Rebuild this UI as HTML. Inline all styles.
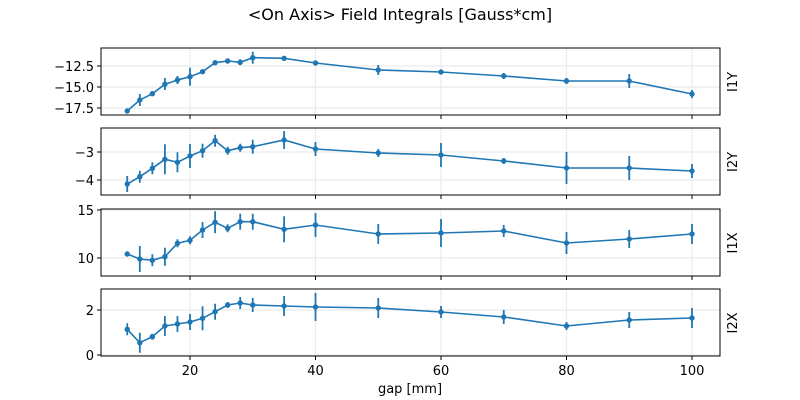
<!DOCTYPE html>
<html><head><style>body{margin:0;background:#fff}svg{display:block}text{font-family:"DejaVu Sans","Liberation Sans",sans-serif;font-size:13px;fill:#000}</style></head><body>
<svg width="800" height="400" xmlns="http://www.w3.org/2000/svg">
<defs><marker id="m" viewBox="-3 -3 6 6" markerWidth="6" markerHeight="6" refX="0" refY="0" markerUnits="userSpaceOnUse"><circle r="2.7" fill="#1f77b4"/></marker></defs>
<text x="400" y="20" text-anchor="middle" style="font-size:16px">&lt;On Axis&gt; Field Integrals [Gauss*cm]</text>
<g stroke="#ebebeb" stroke-width="1.2">
<path d="M190 48V115M315.5 48V115M441 48V115M566.5 48V115M692 48V115"/>
<path d="M190 128V195M315.5 128V195M441 128V195M566.5 128V195M692 128V195"/>
<path d="M190 209V276M315.5 209V276M441 209V276M566.5 209V276M692 209V276"/>
<path d="M190 289V356M315.5 289V356M441 289V356M566.5 289V356M692 289V356"/>
<path d="M101 66H720M101 87H720M101 108H720M101 152H720M101 180H720M101 210H720M101 258H720M101 310H720M101 355H720"/>
</g>
<g fill="none" stroke="#000" stroke-width="1">
<rect x="101" y="48" width="619" height="67"/>
<rect x="101" y="128" width="619" height="67"/>
<rect x="101" y="209" width="619" height="67"/>
<rect x="101" y="289" width="619" height="67"/>
<path d="M190 115v4M315.5 115v4M441 115v4M566.5 115v4M692 115v4M190 195v4M315.5 195v4M441 195v4M566.5 195v4M692 195v4M190 276v4M315.5 276v4M441 276v4M566.5 276v4M692 276v4M190 356v4M315.5 356v4M441 356v4M566.5 356v4M692 356v4"/>
<path d="M101 66h-4M101 87h-4M101 108h-4M101 152h-4M101 180h-4M101 210h-4M101 258h-4M101 310h-4M101 355h-4"/>
</g>
<g text-anchor="end">
<text x="94" y="71">−12.5</text><text x="94" y="92">−15.0</text><text x="94" y="113">−17.5</text>
<text x="94" y="157">−3</text><text x="94" y="185">−4</text>
<text x="94" y="215">15</text><text x="94" y="263">10</text>
<text x="94" y="315">2</text><text x="94" y="360">0</text>
</g>
<g text-anchor="middle">
<text x="190" y="375">20</text><text x="315.5" y="375">40</text><text x="441" y="375">60</text><text x="566.5" y="375">80</text><text x="692" y="375">100</text>
<text x="410" y="393">gap [mm]</text>
</g>
<g text-anchor="middle">
<text transform="translate(737,82) rotate(-90)">I1Y</text>
<text transform="translate(737,162) rotate(-90)">I2Y</text>
<text transform="translate(737,243) rotate(-90)">I1X</text>
<text transform="translate(737,323) rotate(-90)">I2X</text>
</g>
<g stroke="#1f77b4" fill="none" stroke-width="1.6" marker-start="url(#m)" marker-mid="url(#m)" marker-end="url(#m)">
<polyline points="127.25,111 139.8,100 152.35,93.7 164.9,84.3 177.45,80 190,76.7 202.55,71.7 215.1,62.7 227.65,61 240.2,62.3 252.75,57.7 284.1,58.3 315.5,63 378.25,70 441,72 503.75,76 566.5,81 629.25,81 692,94"/>
<polyline points="127.25,184 139.8,176.7 152.35,168.3 164.9,159.3 177.45,162.3 190,156 202.55,150.7 215.1,140.7 227.65,150.7 240.2,147.7 252.75,146.7 284.1,140 315.5,149 378.25,153 441,155 503.75,161 566.5,168 629.25,168 692,171"/>
<polyline points="127.25,254 139.8,259 152.35,260.3 164.9,256.7 177.45,243.3 190,240.3 202.55,230 215.1,222.3 227.65,228.3 240.2,221.7 252.75,221.7 284.1,229.3 315.5,225 378.25,234 441,233 503.75,231 566.5,243 629.25,239 692,234"/>
<polyline points="127.25,329.3 139.8,342.7 152.35,336.7 164.9,326 177.45,324 190,322 202.55,318.3 215.1,311.7 227.65,305 240.2,303 252.75,305 284.1,306 315.5,307 378.25,308 441,312 503.75,317 566.5,326 629.25,320 692,318"/>
</g>
<g stroke="#1f77b4" stroke-width="1.8" fill="none">
<path d="M139.8 94v12M164.9 78v12M177.45 76v8M190 67.7v18M202.55 69.7v4M215.1 60.7v4M227.65 59v4M240.2 59.3v6M252.75 51.7v12M378.25 65v10M441 70v4M503.75 73v6M566.5 78v6M629.25 74v14M692 90v8"/>
<path d="M127.25 176v16M139.8 170.7v12M152.35 162.3v12M164.9 144.3v30M177.45 152.3v20M190 144v24M202.55 143.7v14M215.1 134.7v12M227.65 146.7v8M240.2 143.7v8M252.75 139.7v14M284.1 131v18M315.5 142v14M378.25 149v8M441 143v24M503.75 158v6M566.5 152v32M629.25 156v24M692 164v14"/>
<path d="M127.25 252v4M139.8 246v26M152.35 254.3v12M164.9 247.7v18M177.45 239.3v8M190 236.3v8M202.55 222v16M215.1 211.3v22M227.65 224.3v8M240.2 213.7v16M252.75 213.7v16M284.1 216.3v26M315.5 213v24M378.25 224v20M441 219v28M503.75 225v12M566.5 232v22M629.25 230v18M692 224v20"/>
<path d="M127.25 323.3v12M139.8 332.7v20M152.35 333.7v6M164.9 316v20M177.45 316v16M190 314v16M202.55 306.3v24M215.1 303.7v16M227.65 302v6M240.2 297v12M252.75 298v14M284.1 296v20M315.5 293v28M378.25 298v20M441 306v12M503.75 310v14M566.5 322v8M629.25 312v16M692 308v20"/>
</g>
</svg>
</body></html>
